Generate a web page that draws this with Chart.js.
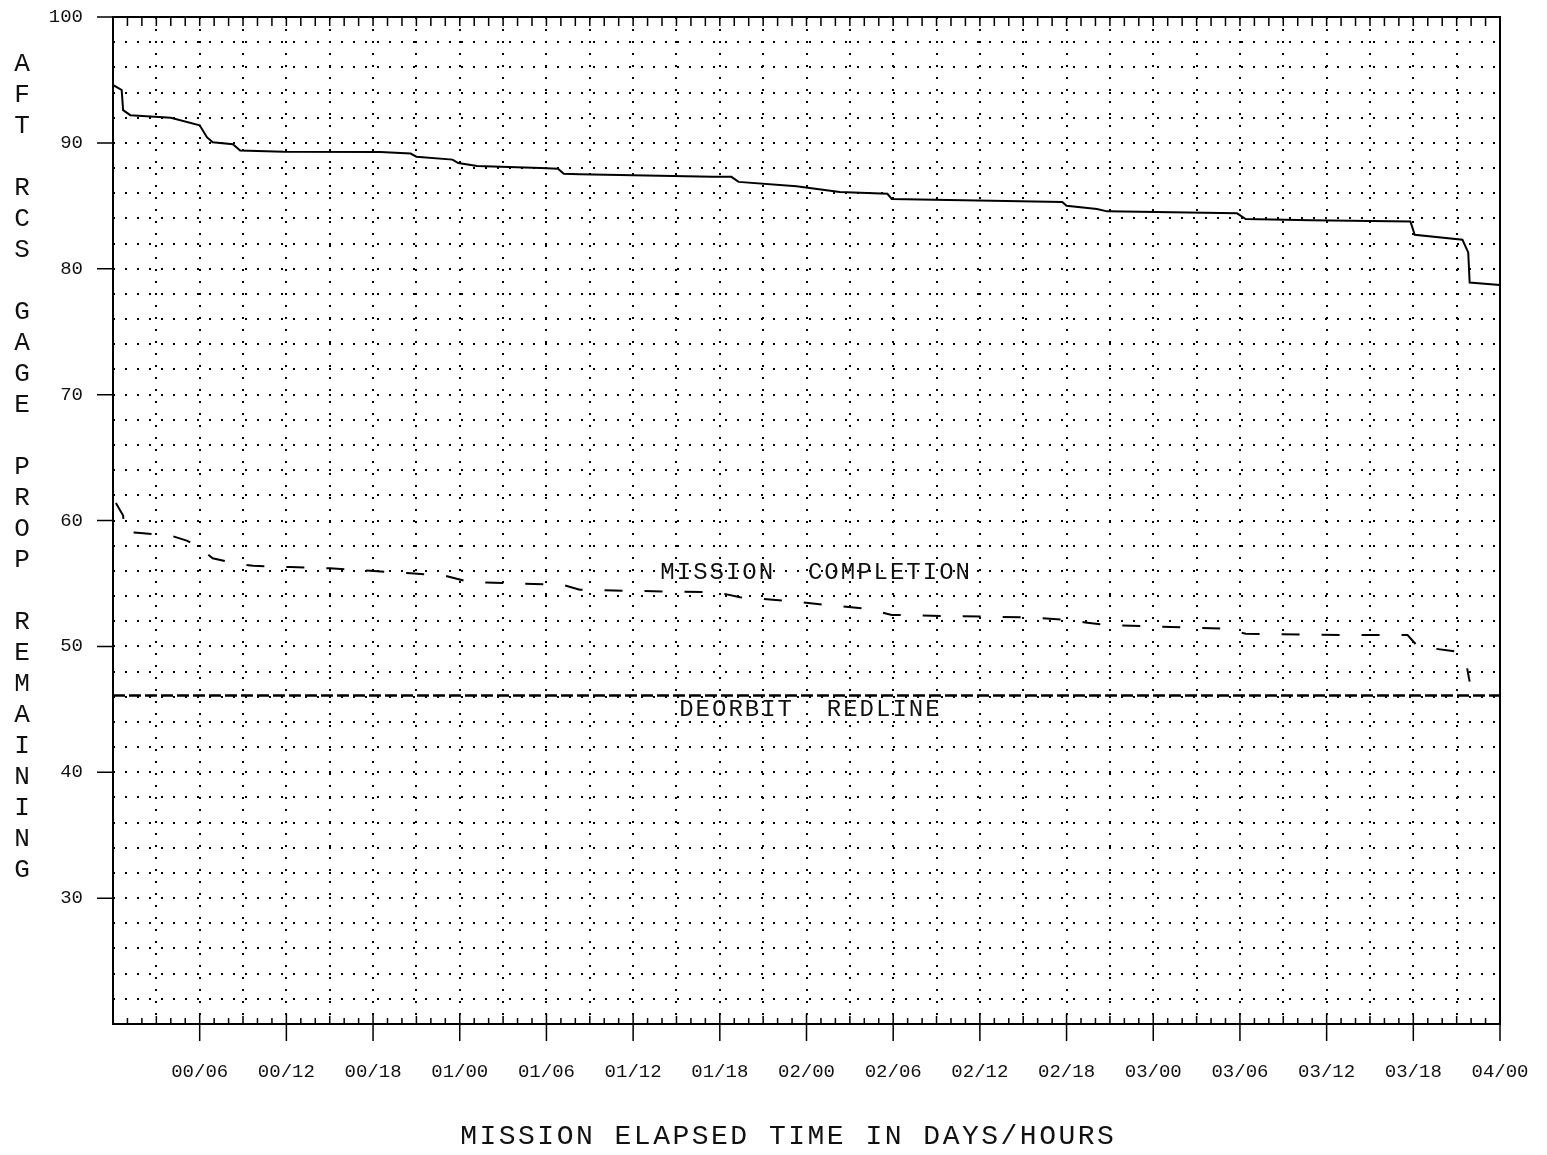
<!DOCTYPE html>
<html>
<head>
<meta charset="utf-8">
<title>Aft RCS gage prop remaining</title>
<script src="https://cdn.jsdelivr.net/npm/chart.js@4.4.1/dist/chart.umd.min.js"></script>
<style>
  html, body { margin: 0; padding: 0; background: #fff; }
  canvas { display: block; }
</style>
</head>
<body>
<canvas id="rcsChart" width="1547" height="1155"></canvas>
<script>
// mission elapsed time (hours) vs aft RCS prop remaining (percent)
const gageHours = [0, 0.6, 0.7, 1.2, 4.0, 6.0, 6.5, 6.9, 8.3, 8.8, 11.8, 18.5, 20.6, 21.0, 23.5, 23.9, 25.2, 29.6, 30.8, 31.2,
  32.3, 41.5, 42.8, 43.3, 47.3, 50.3, 53.6, 53.9, 62.8, 65.7, 66.0, 68.1, 68.8, 77.8, 78.4, 82.9, 89.8, 90.1, 93.4, 93.8, 93.9, 96];
const gageRemaining = [94.6, 94.2, 92.6, 92.2, 92.0, 91.4, 90.45, 90.05, 89.9, 89.4, 89.3, 89.28, 89.15, 88.9, 88.67, 88.4, 88.16, 88.0, 87.95, 87.55,
  87.5, 87.3, 87.3, 86.9, 86.55, 86.1, 85.95, 85.55, 85.36, 85.3, 85.0, 84.75, 84.56, 84.4, 83.95, 83.86, 83.76, 82.7, 82.3, 81.3, 78.9, 78.7];

const completionHours = [0.2, 0.7, 0.8, 1.9, 4.0, 5.1, 5.8, 6.9, 8.4, 9.7, 12.3, 15.0, 17.8, 20.6, 23.0, 24.7, 28.0, 31.1, 32.3, 36.3,
  41.8, 43.4, 46.9, 49.3, 52.1, 53.9, 58.1, 63.5, 66.0, 67.3, 68.7, 71.6, 77.0, 78.4, 85.4, 89.6, 90.3, 92.9, 93.7, 93.9];
const completionRemaining = [61.4, 60.4, 59.1, 59.0, 58.8, 58.4, 58.0, 57.0, 56.6, 56.4, 56.3, 56.2, 56.0, 55.8, 55.6, 55.1, 55.0, 54.9, 54.5, 54.4,
  54.3, 53.9, 53.6, 53.3, 53.0, 52.5, 52.4, 52.3, 52.1, 51.9, 51.7, 51.6, 51.4, 51.0, 50.9, 50.9, 50.0, 49.6, 48.4, 47.2];

const redlineHours = [0, 96];
const redlineRemaining = [46.1, 46.1];

const timeLabels = ["00/06", "00/12", "00/18", "01/00", "01/06", "01/12", "01/18", "02/00",
  "02/06", "02/12", "02/18", "03/00", "03/06", "03/12", "03/18", "04/00"];
const gageLabels = ["30", "40", "50", "60", "70", "80", "90", "100"];

const lineNotes = ["MISSION  COMPLETION", "DEORBIT  REDLINE"];
const yTitle = "AFT RCS GAGE PROP REMAINING";
const xTitle = "MISSION ELAPSED TIME IN DAYS/HOURS";

const MONO = '"Liberation Mono", "DejaVu Sans Mono", monospace';

function pts(xs, ys) {
  return xs.map((h, i) => ({ x: h, y: ys[i] }));
}

// draw text one char at a time so the spacing matches the old plotter look
function spaced(ctx, text, cx, cy, step) {
  const start = cx - step * (text.length - 1) / 2;
  for (let i = 0; i < text.length; i++) {
    ctx.fillText(text[i], start + i * step, cy);
  }
}

// keep the plot box where the scan has it, labels may hang outside
function noPad(s) {
  s.paddingTop = 0;
  s.paddingBottom = 0;
  s.paddingLeft = 0;
  s.paddingRight = 0;
}

const frame = {
  id: 'frame',
  afterDraw(chart) {
    const { ctx, chartArea: a, scales: { x, y } } = chart;
    ctx.save();
    ctx.strokeStyle = '#000';
    ctx.lineWidth = 2;
    ctx.strokeRect(a.left, a.top, a.width, a.height);

    ctx.lineWidth = 1.5;
    ctx.beginPath();
    for (let h = 1; h <= 96; h++) {
      const px = x.getPixelForValue(h);
      ctx.moveTo(px, a.top);
      ctx.lineTo(px, a.top + 9);
      if (h % 6 === 0) {
        ctx.moveTo(px, a.bottom - 10);
        ctx.lineTo(px, a.bottom + 17);
      } else {
        ctx.moveTo(px, a.bottom);
        ctx.lineTo(px, a.bottom - (h % 3 === 0 ? 8 : 6));
      }
    }
    for (let v = 30; v <= 100; v += 10) {
      const py = y.getPixelForValue(v);
      ctx.moveTo(a.left - 16, py);
      ctx.lineTo(a.left, py);
    }
    ctx.stroke();

    ctx.fillStyle = '#111';
    ctx.textAlign = 'center';
    ctx.textBaseline = 'middle';
    ctx.font = '24px ' + MONO;
    spaced(ctx, lineNotes[0], x.getPixelForValue(48.6), y.getPixelForValue(55.85), 16.4);
    spaced(ctx, lineNotes[1], x.getPixelForValue(48.2), y.getPixelForValue(45.0), 16.4);

    ctx.font = '26px ' + MONO;
    for (let i = 0; i < yTitle.length; i++) {
      ctx.fillText(yTitle[i], 22, 64 + i * 31);
    }

    ctx.font = '28px ' + MONO;
    spaced(ctx, xTitle, 787, 1137, 19.3);
    ctx.restore();
  }
};

const ctx = document.getElementById('rcsChart').getContext('2d');

new Chart(ctx, {
  type: 'line',
  data: {
    datasets: [
      {
        label: 'Aft RCS gage',
        data: pts(gageHours, gageRemaining),
        borderColor: '#000',
        borderWidth: 2,
        pointRadius: 0,
        tension: 0
      },
      {
        label: 'Mission completion',
        data: pts(completionHours, completionRemaining),
        borderColor: '#000',
        borderWidth: 2,
        borderDash: [18, 22],
        pointRadius: 0,
        tension: 0
      },
      {
        label: 'Deorbit redline',
        data: pts(redlineHours, redlineRemaining),
        borderColor: '#000',
        borderWidth: 2.5,
        borderDash: [12, 4],
        pointRadius: 0,
        tension: 0
      }
    ]
  },
  options: {
    responsive: false,
    animation: false,
    layout: { padding: { left: 0, right: 47, top: 17, bottom: 0 } },
    plugins: {
      legend: { display: false },
      tooltip: { enabled: false }
    },
    scales: {
      x: {
        type: 'linear',
        min: 0,
        max: 96,
        afterFit: s => { s.height = 131; noPad(s); },
        ticks: {
          stepSize: 3,
          maxTicksLimit: 100,
          autoSkip: false,
          maxRotation: 0,
          padding: 37,
          color: '#111',
          font: { family: MONO, size: 19 },
          callback: v => (v > 0 && v % 6 === 0) ? timeLabels[v / 6 - 1] : ''
        },
        grid: { color: '#000', lineWidth: 2, drawTicks: false },
        border: { display: false, dash: [2, 10] }
      },
      y: {
        min: 20,
        max: 100,
        afterFit: s => { s.width = 113; noPad(s); },
        ticks: {
          stepSize: 2,
          maxTicksLimit: 100,
          autoSkip: false,
          padding: 30,
          color: '#111',
          font: { family: MONO, size: 19 },
          callback: v => (v >= 30 && v % 10 === 0) ? gageLabels[(v - 30) / 10] : ''
        },
        grid: { color: '#000', lineWidth: 2, drawTicks: false },
        border: { display: false, dash: [2, 10] }
      }
    }
  },
  plugins: [frame]
});
</script>
</body>
</html>
